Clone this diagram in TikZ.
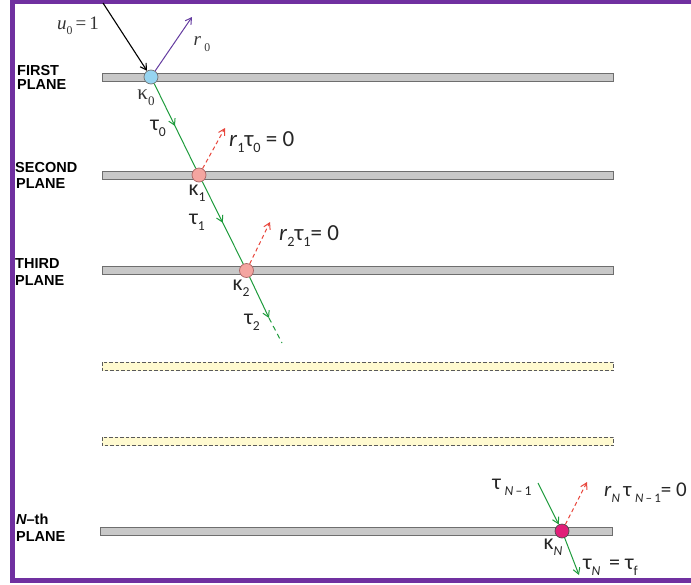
\documentclass[tikz,border=0pt]{standalone}
\usepackage{fontspec}
\usepackage{graphicx}
\setmainfont{Liberation Serif}
\newfontfamily\lsans{Liberation Sans}
\newfontfamily\calib{Carlito}
\usetikzlibrary{arrows.meta,decorations.markings}
\newcommand\lsub[1]{\raisebox{-0.28em}{\scalebox{0.62}{#1}}}
\definecolor{framepurple}{RGB}{112,48,160}
\definecolor{planefill}{RGB}{200,200,200}
\definecolor{planeedge}{RGB}{110,110,110}
\definecolor{yelfill}{RGB}{255,250,208}
\definecolor{grn}{RGB}{30,155,60}
\definecolor{redd}{RGB}{232,70,60}
\definecolor{rpurple}{RGB}{100,60,160}
\definecolor{kblue}{RGB}{150,212,240}
\definecolor{kpink}{RGB}{244,165,160}
\definecolor{kmag}{RGB}{225,30,120}
\begin{document}
\begin{tikzpicture}[x=1pt,y=-1pt,
  plane/.style={draw=planeedge,fill=planefill,line width=0.9pt},
  dplane/.style={draw=black!65,fill=yelfill,line width=0.8pt,dash pattern=on 3.5pt off 2pt},
  kap/.style={circle,draw,line width=0.7pt,minimum size=14pt,inner sep=0pt},
  tip/.style={-{Straight Barb[length=6pt,width=7pt]}},
  gline/.style={draw=grn,line width=1pt},
  midarrow/.style={postaction={decorate},decoration={markings,mark=at position 0.5 with {\arrow[grn,line width=1pt]{Straight Barb[length=6pt,width=7pt]}}}},
  rline/.style={draw=redd,line width=1pt,dash pattern=on 4pt off 3pt,tip},
  plab/.style={font=\lsans\bfseries\fontsize{14.5}{15}\selectfont,anchor=base west,inner sep=0pt,text=black},
  glab/.style={font=\calib\fontsize{22}{26}\selectfont,inner sep=0pt,text=black!85},
  elab/.style={font=\calib\fontsize{23}{27}\selectfont,inner sep=0pt,anchor=west,text=black!85},
  slab/.style={font=\fontsize{19}{22}\selectfont,inner sep=0pt,text=black!80}
]
\useasboundingbox (0,0) rectangle (691,584);
% frame
\draw[framepurple,line width=4.5pt] (691,2) -- (12.5,2) -- (12.5,580.5) -- (691,580.5);

% planes
\draw[plane] (102,73) rectangle (613,81.5);
\draw[plane] (102,171) rectangle (613,179.5);
\draw[plane] (102,266) rectangle (613,274.5);
\draw[dplane] (102,362) rectangle (613,370.5);
\draw[dplane] (102,437) rectangle (613,445.5);
\draw[plane] (100,527) rectangle (612,535.5);

% plane labels
\node[plab] (l1a) at (17,75) {FIRST};
\node[plab] (l1b) at (17,89) {PLANE};
\node[plab] (l2a) at (15,172) {SECOND};
\node[plab] (l2b) at (16,188) {PLANE};
\node[plab] (l3a) at (15,268) {THIRD};
\node[plab] (l3b) at (15,285) {PLANE};
\node[plab] (l4a) at (16,524) {\itshape N\upshape–th};
\node[plab] (l4b) at (16,541) {PLANE};

% interaction points
\node[kap,draw=black!55,fill=kblue] (k0) at (151,77) {};
\node[kap,draw=red!45!black!60,fill=kpink] (k1) at (199,175) {};
\node[kap,draw=red!45!black!60,fill=kpink] (k2) at (246.5,270.5) {};
\node[kap,draw=black!70,fill=kmag] (kN) at (562,531) {};

% incident and reflected at first plane
\coordinate (u0s) at (103,3);
\coordinate (r0e) at (192,17);
\draw[black,line width=1.1pt,tip] (u0s) -- (k0);
\draw[rpurple,line width=1pt,tip] (k0) -- (r0e);

% transmitted chain
\draw[gline,midarrow] (k0) -- (k1);
\draw[gline,midarrow] (k1) -- (k2);
\coordinate (t2e) at (269,318);
\coordinate (t2d) at (282,343);
\draw[gline,tip] (k2) -- (t2e);
\draw[grn,line width=1pt,dash pattern=on 5pt off 4pt] (t2e) -- (t2d);

% reflected (dashed red)
\coordinate (r1e) at (225,128);
\coordinate (r2e) at (270,222);
\coordinate (rNe) at (587,482);
\draw[rline] (k1) -- (r1e);
\draw[rline] (k2) -- (r2e);
\draw[rline] (kN) -- (rNe);

% last plane
\coordinate (tNs) at (538,483);
\coordinate (tNe) at (579,575);
\draw[gline,tip] (tNs) -- (kN);
\draw[gline,tip] (kN) -- (tNe);

% labels
\node[slab] (u0) at (78,26) {\textit{u}\lsub{0}\,=\,1};
\node[slab] (r0) at (202,44) {\textit{r}\,\lsub{0}};
\node[slab,font=\fontsize{21}{24}\selectfont] (kl0) at (146,98) {κ\lsub{0}};
\node[glab] (tl0) at (158,128) {τ\lsub{0}};
\node[elab] (e1) at (229,142) {\textit{r}\lsub{1}τ\lsub{0} = 0};
\node[glab] (kl1) at (197,193) {κ\lsub{1}};
\node[glab] (tl1) at (197,222) {τ\lsub{1}};
\node[elab] (e2) at (279,236) {\textit{r}\lsub{2}τ\lsub{1}= 0};
\node[glab] (kl2) at (241,288) {κ\lsub{2}};
\node[glab] (tl2) at (252,322) {τ\lsub{2}};
\node[glab] (tlN1) at (512,487) {τ\,\lsub{\textit{N}\,–\,1}};
\node[elab,font=\calib\fontsize{21}{25}\selectfont] (eN) at (604,493) {\textit{r}\lsub{\textit{N}}\,τ\,\lsub{\textit{N}\,–\,1}= 0};
\node[glab] (klN) at (553,547) {κ\lsub{\textit{N}}};
\node[glab,anchor=west] (tlN) at (583,567) {τ\lsub{\textit{N}} \,= τ\lsub{f}};
\end{tikzpicture}
\end{document}
